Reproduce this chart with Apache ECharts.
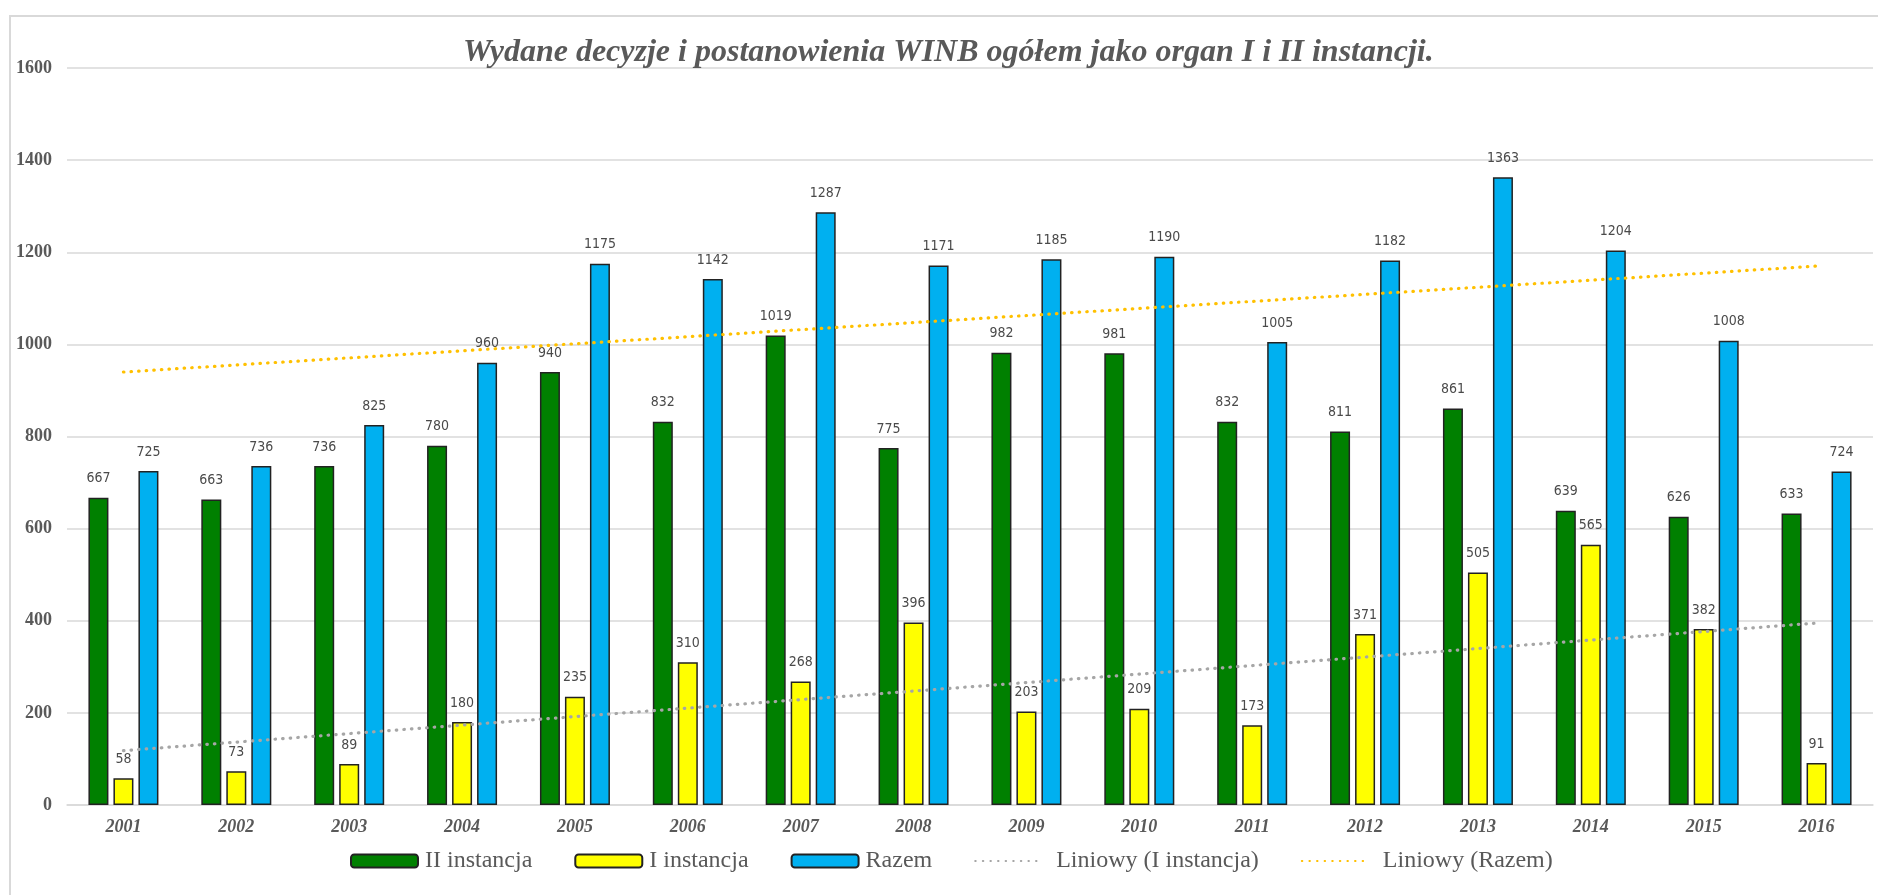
<!DOCTYPE html>
<html>
<head>
<meta charset="utf-8">
<script src="https://cdn.jsdelivr.net/npm/echarts@6/dist/echarts.min.js"></script>
<style>
html,body{margin:0;padding:0;background:#fff;}
#chart{width:1878px;height:895px;}
</style>
</head>
<body>
<div id="chart"></div>
<script>
const titleText = 'Wydane decyzje i postanowienia WINB ogółem jako organ I i II instancji.';
const years = ['2001','2002','2003','2004','2005','2006','2007','2008','2009','2010','2011','2012','2013','2014','2015','2016'];
const secondInstance = [667,663,736,780,940,832,1019,775,982,981,832,811,861,639,626,633];
const firstInstance = [58,73,89,180,235,310,268,396,203,209,173,371,505,565,382,91];
const total = [725,736,825,960,1175,1142,1287,1171,1185,1190,1005,1182,1363,1204,1008,724];
// trend line end values (first year, last year)
const trendFirst = [118, 395];
const trendTotal = [940, 1170];
const yTicks = [0,200,400,600,800,1000,1200,1400,1600];

function endpoints(pair){
  return years.map((y,i)=> i===0 ? pair[0] : (i===years.length-1 ? pair[1] : null));
}

const serif = "'Liberation Serif','Times New Roman',serif";
const labelFont = "'Liberation Sans Narrow','DejaVu Sans Condensed','Liberation Sans',sans-serif";
const dataLabel = {show:true, position:'top', distance:12, color:'#4a4a4a', fontSize:14, fontFamily:labelFont};
const lineLegendText = {fontFamily:serif, fontSize:24, color:'#595959', padding:[0,0,0,9]};
const barBorder = {borderColor:'#222222', borderWidth:1.5};

const chart = echarts.init(document.getElementById('chart'), null, {renderer:'canvas'});
chart.setOption({
  animation:false,
  backgroundColor:'#fff',
  graphic:[{type:'rect', shape:{x:10,y:16,width:1900,height:900}, style:{fill:'none', stroke:'#D9D9D9', lineWidth:2}, silent:true, z:-1}],
  title:{text:titleText, left:463, top:37, padding:0,
    textStyle:{fontFamily:serif, fontSize:32, fontWeight:'bold', fontStyle:'italic', color:'#595959'}},
  legend:{left:350, top:849, padding:0, itemWidth:67, itemHeight:13, itemGap:42,
    textStyle:{fontFamily:serif, fontSize:24, color:'#595959', padding:[0,0,0,2]},
    data:['II instancja','I instancja','Razem',
      {name:'Liniowy (I instancja)', itemStyle:{opacity:0}, textStyle:lineLegendText},
      {name:'Liniowy (Razem)', itemStyle:{opacity:0}, textStyle:lineLegendText}]},
  grid:{left:67, right:5, top:68, bottom:90, containLabel:false},
  xAxis:{type:'category', data:years,
    axisLine:{lineStyle:{color:'#D9D9D9', width:1.5}}, axisTick:{show:false},
    axisLabel:{margin:13, fontFamily:serif, fontSize:18, fontWeight:'bold', fontStyle:'italic', color:'#595959'}},
  yAxis:{type:'value', min:yTicks[0], max:yTicks[yTicks.length-1], interval:200,
    axisLine:{show:false}, axisTick:{show:false},
    splitLine:{lineStyle:{color:'#D9D9D9', width:1.5}},
    axisLabel:{margin:15, fontFamily:serif, fontSize:18, fontWeight:'bold', color:'#595959',
      formatter:(v)=>String(v)}},
  series:[
    {name:'II instancja', type:'bar', data:secondInstance, barWidth:20, barGap:'25%',
      itemStyle:Object.assign({color:'#008000'}, barBorder), label:dataLabel},
    {name:'I instancja', type:'bar', data:firstInstance, barWidth:20, barGap:'25%',
      itemStyle:Object.assign({color:'#FFFF00'}, barBorder), label:dataLabel},
    {name:'Razem', type:'bar', data:total, barWidth:20, barGap:'25%',
      itemStyle:Object.assign({color:'#00B0F0'}, barBorder), label:dataLabel},
    {name:'Liniowy (I instancja)', type:'line', data:endpoints(trendFirst), connectNulls:true,
      symbol:'none', z:5, itemStyle:{color:'#A6A6A6'},
      lineStyle:{color:'#A6A6A6', width:3.2, type:[0.5,7.1], cap:'round'}},
    {name:'Liniowy (Razem)', type:'line', data:endpoints(trendTotal), connectNulls:true,
      symbol:'none', z:5, itemStyle:{color:'#FFC000'},
      lineStyle:{color:'#FFC000', width:3.2, type:[0.5,7.1], cap:'round'}}
  ]
});
</script>
</body>
</html>
